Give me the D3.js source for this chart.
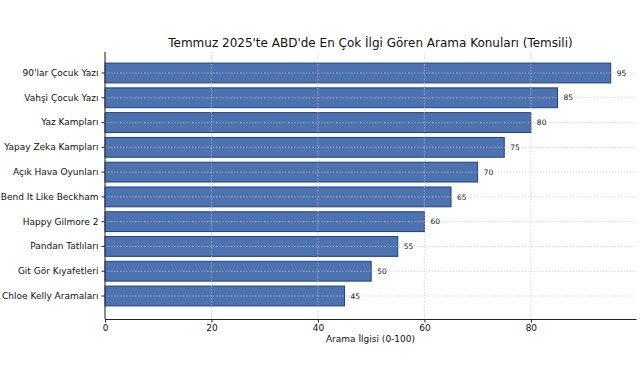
<!DOCTYPE html>
<html><head><meta charset="utf-8">
<script src="https://cdn.jsdelivr.net/npm/d3@7"></script>
<style>body{margin:0;background:#fff}svg{display:block}text{font-family:"DejaVu Sans",sans-serif}</style>
</head><body><svg id="c" width="641" height="380"></svg>
<script>
const categories = ["90'lar Çocuk Yazı","Vahşi Çocuk Yazı","Yaz Kampları","Yapay Zeka Kampları","Açık Hava Oyunları","Bend It Like Beckham","Happy Gilmore 2","Pandan Tatlıları","Git Gör Kıyafetleri","Chloe Kelly Aramaları"];
const values = [95,85,80,75,70,65,60,55,50,45];
const xTicks = [0,20,40,60,80];
const title = "Temmuz 2025'te ABD'de En Çok İlgi Gören Arama Konuları (Temsili)";
const xLabel = "Arama İlgisi (0-100)";

const svg = d3.select("#c");
const L=105, R=636, T=52, B=319;
const x = d3.scaleLinear().domain([0, d3.max(values)*1.05]).range([L,R]);
const y = d3.scaleBand().domain(categories).range([50.7,318.3]).paddingInner(0.2).paddingOuter(0.5);

// bars
svg.append("g").selectAll("rect").data(values).join("rect")
  .attr("x", x(0)).attr("y",(d,i)=>y(categories[i]))
  .attr("width", d=>x(d)-x(0)).attr("height", y.bandwidth())
  .attr("fill","#4c72b0").attr("stroke","#1f3f86").attr("stroke-width",1);

// grid (drawn over bars)
const g = svg.append("g");
g.selectAll("line.v").data(xTicks).join("line").attr("class","v")
  .attr("x1",d=>x(d)).attr("x2",d=>x(d)).attr("y1",T).attr("y2",B)
  .attr("stroke","#c8c8c8").attr("stroke-opacity",0.8).attr("stroke-width",0.8).attr("stroke-dasharray","1.5,1.5");
g.selectAll("line.h").data(categories).join("line").attr("class","h")
  .attr("x1",L).attr("x2",R).attr("y1",d=>y(d)+y.bandwidth()/2).attr("y2",d=>y(d)+y.bandwidth()/2)
  .attr("stroke","#c8c8c8").attr("stroke-opacity",0.8).attr("stroke-width",0.8).attr("stroke-dasharray","1.5,1.5");

// value labels
svg.append("g").selectAll("text").data(values).join("text")
  .attr("x",d=>x(d)+6).attr("y",(d,i)=>y(categories[i])+y.bandwidth()/2)
  .attr("dy","0.35em").attr("font-size",7.5).attr("fill","#222").text(d=>d);

// axes
const xa = svg.append("g").attr("transform",`translate(0,${B})`)
  .call(d3.axisBottom(x).tickValues(xTicks).tickSize(3.5).tickPadding(2).tickSizeOuter(0));
xa.select(".domain").attr("stroke","#222").attr("stroke-width",1);
xa.selectAll("text").attr("font-size",9).attr("fill","#111");
xa.selectAll(".tick line").attr("stroke","#222");
const ya = svg.append("g").attr("transform",`translate(${L},0)`)
  .call(d3.axisLeft(y).tickSize(3.5).tickPadding(3).tickSizeOuter(0));
ya.select(".domain").attr("d",`M0,${T}V${B}`).attr("stroke","#222").attr("stroke-width",1);
ya.selectAll("text").attr("font-size",9).attr("fill","#111");
ya.selectAll(".tick line").attr("stroke","#222");

svg.append("text").attr("x",(L+R)/2).attr("y",342).attr("text-anchor","middle")
  .attr("font-size",9).attr("fill","#111").text(xLabel);
svg.append("text").attr("x",(L+R)/2).attr("y",47).attr("text-anchor","middle")
  .attr("font-size",12).attr("fill","#111").text(title);
</script></body></html>
